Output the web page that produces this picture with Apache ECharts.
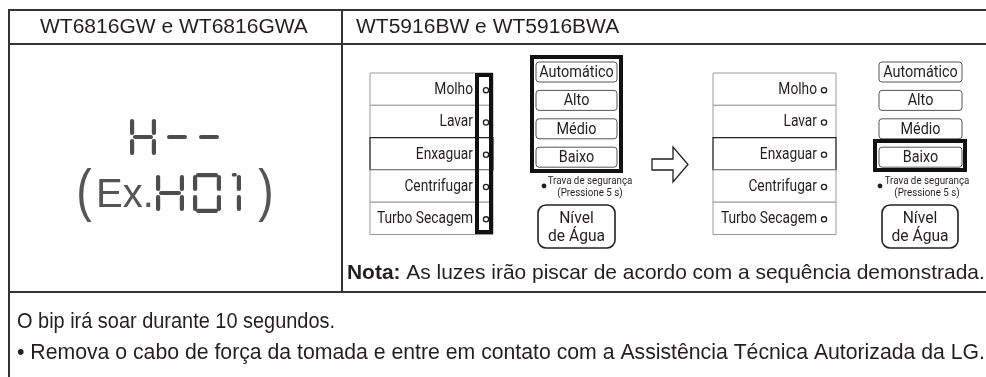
<!DOCTYPE html>
<html>
<head>
<meta charset="utf-8">
<script src="https://cdn.jsdelivr.net/npm/echarts@6/dist/echarts.min.js"></script>
<style>
  html, body { margin: 0; padding: 0; background: #fff; }
  #main { width: 986px; height: 377px; }
</style>
</head>
<body>
<div id="main"></div>
<script>
// text content of the table
const headers = ['WT6816GW e WT6816GWA', 'WT5916BW e WT5916BWA'];
const cycleLabels = ['Molho', 'Lavar', 'Enxaguar', 'Centrifugar', 'Turbo Secagem'];
const levelLabels = ['Automático', 'Alto', 'Médio', 'Baixo'];
const lockLabels = ['Trava de segurança', '(Pressione 5 s)'];
const waterLabels = ['Nível', 'de Água'];
const displayCode = ['H', '-', '-'];
const exampleCode = ['H', '0', '1'];
const noteBold = 'Nota:';
const noteText = ' As luzes irão piscar de acordo com a sequência demonstrada.';
const bodyLines = [
  'O bip irá soar durante 10 segundos.',
  '• Remova o cabo de força da tomada e entre em contato com a Assistência Técnica Autorizada da LG.'
];
const bodyWidths = [318, 968];

const FONT = '"Liberation Sans", Arial, sans-serif';
const COND = 'Roboto, "Liberation Sans", sans-serif';
const INK = '#231f20';
const LINE = '#333';

const chart = echarts.init(document.getElementById('main'), null, { renderer: 'canvas' });

// measure helper so the long lines span the same width as in the picture
const mctx = document.createElement('canvas').getContext('2d');
function textW(text, weight, size, family) {
  mctx.font = weight + ' ' + size + 'px ' + (family || FONT);
  return mctx.measureText(text).width;
}
function fitSize(text, weight, target) {
  return 100 * target / textW(text, weight, 100);
}

const els = [];
function line(x1, y1, x2, y2, w, c) {
  els.push({ type: 'line', shape: { x1, y1, x2, y2 }, style: { stroke: c || LINE, lineWidth: w || 2 } });
}
function rect(x, y, w, h, r, stroke, lw, fill) {
  els.push({ type: 'rect', shape: { x, y, width: w, height: h, r: r || 0 },
    style: { fill: fill || 'none', stroke: stroke || 'none', lineWidth: lw || 1 } });
}
function text(x, y, str, size, opts) {
  opts = opts || {};
  els.push({ type: 'text', x, y, scaleX: opts.sx || 1,
    style: { text: str, fill: opts.color || INK,
      font: (opts.weight || 'normal') + ' ' + size + 'px ' + (opts.family || FONT),
      textAlign: opts.align || 'left', textVerticalAlign: opts.valign || 'middle' } });
}

// table frame
line(9, 10, 986, 10);
line(9, 44, 986, 44);
line(9, 292, 986, 292);
line(9, 9, 9, 377);
line(342, 10, 342, 292);

// headers
const hs = fitSize(headers[0], 'normal', 268);
text(40, 27, headers[0], hs);
text(356, 27, headers[1], hs);

// seven segment display
const SEG_COLOR = '#4d4d4d';
const SEGS = { 'H': 'bcefg', '-': 'g', '0': 'abcdef', '1': 'bc' };
function digit(ch, x, y, w, h) {
  const t = 4.2, g = 2, hh = h / 2;
  const s = SEGS[ch] || '';
  const box = {
    a: [x + g + 1, y, w - 2 * g - 2, t],
    g: [x + g + 1, y + hh - t / 2, w - 2 * g - 2, t],
    d: [x + g + 1, y + h - t, w - 2 * g - 2, t],
    f: [x, y + g, t, hh - 2 * g],
    e: [x, y + hh + g, t, hh - 2 * g],
    b: [x + w - t, y + g, t, hh - 2 * g],
    c: [x + w - t, y + hh + g, t, hh - 2 * g]
  };
  for (const k of s) {
    const bx = box[k];
    els.push({ type: 'rect', shape: { x: bx[0], y: bx[1], width: bx[2], height: bx[3], r: 2 },
      style: { fill: SEG_COLOR } });
  }
  if (ch === '1') {
    els.push({ type: 'rect', shape: { x: x + w - t - 5, y: y, width: 5, height: 3.5, r: 1.5 },
      style: { fill: SEG_COLOR } });
  }
}
const row1X = [130, 164, 196];
displayCode.forEach((c, i) => digit(c, row1X[i], 117, 26, 40));
text(84, 194, '(', 58, { color: '#555', align: 'center', sx: 0.8 });
text(96, 196, 'Ex.', 40, { color: '#555' });
const row2X = [156, 193, 229];
const row2W = [28, 28, 12];
exampleCode.forEach((c, i) => digit(c, row2X[i], 173, row2W[i], 40));
text(266, 194, ')', 58, { color: '#555', align: 'center', sx: 0.8 });

// one control panel
function panel(p) {
  const rowH = 32.3;
  cycleLabels.forEach((lab, i) => {
    const y = 73 + i * rowH;
    const dark = i === 2;
    rect(p.ox, y, 123, rowH, 0, dark ? '#222' : '#9a9a9a', dark ? 1.3 : 1, '#fff');
  });
  cycleLabels.forEach((lab, i) => {
    const y = 73 + i * rowH + rowH / 2;
    text(p.ox + p.textR, y + 1, lab, 16, { align: 'right', family: COND, sx: 0.86 });
    els.push({ type: 'circle', shape: { cx: p.ox + p.dotX, cy: y + 1, r: 2.6 },
      style: { fill: '#fff', stroke: INK, lineWidth: 1.3 } });
  });
  if (p.markCycles) rect(477, 75, 14, 157, 0, '#111', 4);

  levelLabels.forEach((lab, i) => {
    const y = 62 + i * 28.4;
    rect(p.bx, y, p.bw, 20, 3, '#555', 1, '#fff');
    text(p.bx + p.bw / 2, y + 11, lab, 16, { align: 'center', family: COND, sx: 0.9 });
  });
  if (p.markLevels) rect(p.bx - 4, 57, p.bw + 8, 114, 0, '#111', 4);
  if (p.markBaixo) rect(p.bx - 4, 141, p.bw + 7, 29, 0, '#111', 4);

  els.push({ type: 'circle', shape: { cx: p.dotX2, cy: 186, r: 2.4 }, style: { fill: INK } });
  text(p.lockC, 181, lockLabels[0], 11.5, { align: 'center', family: COND, sx: 0.85 });
  text(p.lockC, 193, lockLabels[1], 11.5, { align: 'center', family: COND, sx: 0.85 });
  rect(p.nx, 205, p.nw, 43, 8, '#222', 1.6, '#fff');
  text(p.nx + p.nw / 2, 219, waterLabels[0], 17, { align: 'center', family: COND, sx: 0.92 });
  text(p.nx + p.nw / 2, 237, waterLabels[1], 17, { align: 'center', family: COND, sx: 0.92 });
}
// text anchors are laid out relative to each panel's origin
panel({ ox: 370, textR: 103, dotX: 116, markCycles: true,
  bx: 536, bw: 81, markLevels: true, dotX2: 544, lockC: 590, nx: 538, nw: 77 });
panel({ ox: 713, textR: 104, dotX: 111,
  bx: 879, bw: 83, markBaixo: true, dotX2: 880, lockC: 927, nx: 882, nw: 76 });

// arrow between the two panels
els.push({ type: 'polygon', shape: { points: [[652, 159], [673, 159], [673, 147], [688, 164.5],
  [673, 182], [673, 170], [652, 170]] }, style: { fill: '#fff', stroke: INK, lineWidth: 1.3 } });

// note line
const nsz = 100 * 638 / (textW(noteBold, 'bold', 100) + textW(noteText, 'normal', 100));
text(347, 273, noteBold, nsz, { weight: 'bold' });
text(347 + textW(noteBold, 'bold', nsz), 273, noteText, nsz);

// body lines: type size from the long line, first line squeezed to its width
const BSZ = fitSize(bodyLines[1], 'normal', bodyWidths[1]);
bodyLines.forEach((s, i) => {
  const sx = bodyWidths[i] / textW(s, 'normal', BSZ);
  text(17, 322 + i * 31, s, BSZ, { sx });
});

const option = {
  animation: false,
  backgroundColor: '#fff',
  graphic: { elements: els }
};
chart.setOption(option);
</script>
</body>
</html>
